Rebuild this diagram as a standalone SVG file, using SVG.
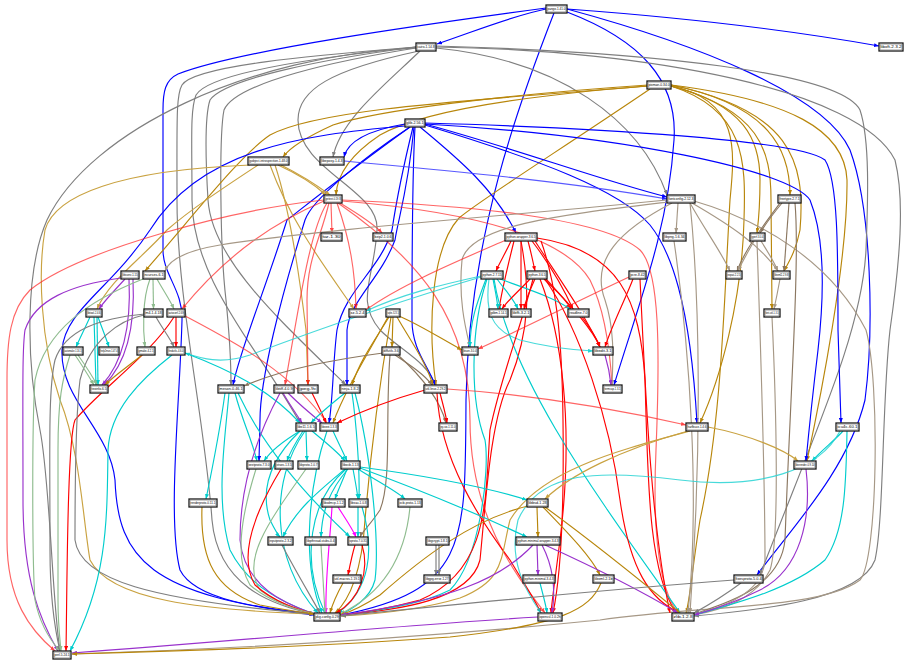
<svg xmlns="http://www.w3.org/2000/svg" width="909" height="663" viewBox="0 0 909 663">
<style>
.node rect{fill:#fff;stroke:#1a1a1a;stroke-width:1.3}
.node .in{fill:none;stroke:#9a9a9a;stroke-width:.6}
.node text{font-family:"Liberation Sans",Arial,sans-serif;font-size:3px;text-anchor:middle;fill:#000}
#edges path{fill:none;stroke-width:1.15}
.b{stroke:#0000ff;marker-end:url(#ab)}
.bl{stroke:#3c3cff;opacity:.85;marker-end:url(#ab)}
.g{stroke:#7f7f7f;marker-end:url(#ag)}
.o{stroke:#b8860b;marker-end:url(#ao)}
.ol{stroke:#c9a241;marker-end:url(#aol)}
.r{stroke:#ff0000;marker-end:url(#ar)}
.rl{stroke:#ff2a2a;opacity:.72;marker-end:url(#ar)}
.br{stroke:#a69886;marker-end:url(#abr)}
.bd{stroke:#8b7760;marker-end:url(#abd)}
.c{stroke:#00cdcd;marker-end:url(#ac)}
.cl{stroke:#28d4d4;opacity:.85;marker-end:url(#ac)}
.p{stroke:#9932cc;marker-end:url(#ap)}
.gn{stroke:#8fbc8f;marker-end:url(#agn)}
.m{stroke:#ff00ff;marker-end:url(#am)}
</style>
<defs>
<marker id="ab" viewBox="0 0 10 8" refX="10" refY="4" markerWidth="5" markerHeight="4" orient="auto" markerUnits="userSpaceOnUse"><path d="M0,0L10,4L0,8z" fill="#0000ff"/></marker>
<marker id="ag" viewBox="0 0 10 8" refX="10" refY="4" markerWidth="5" markerHeight="4" orient="auto" markerUnits="userSpaceOnUse"><path d="M0,0L10,4L0,8z" fill="#7f7f7f"/></marker>
<marker id="ao" viewBox="0 0 10 8" refX="10" refY="4" markerWidth="5" markerHeight="4" orient="auto" markerUnits="userSpaceOnUse"><path d="M0,0L10,4L0,8z" fill="#b8860b"/></marker>
<marker id="aol" viewBox="0 0 10 8" refX="10" refY="4" markerWidth="5" markerHeight="4" orient="auto" markerUnits="userSpaceOnUse"><path d="M0,0L10,4L0,8z" fill="#c9a241"/></marker>
<marker id="ar" viewBox="0 0 10 8" refX="10" refY="4" markerWidth="5" markerHeight="4" orient="auto" markerUnits="userSpaceOnUse"><path d="M0,0L10,4L0,8z" fill="#ff0000"/></marker>
<marker id="abr" viewBox="0 0 10 8" refX="10" refY="4" markerWidth="5" markerHeight="4" orient="auto" markerUnits="userSpaceOnUse"><path d="M0,0L10,4L0,8z" fill="#a69886"/></marker>
<marker id="abd" viewBox="0 0 10 8" refX="10" refY="4" markerWidth="5" markerHeight="4" orient="auto" markerUnits="userSpaceOnUse"><path d="M0,0L10,4L0,8z" fill="#8b7760"/></marker>
<marker id="ac" viewBox="0 0 10 8" refX="10" refY="4" markerWidth="5" markerHeight="4" orient="auto" markerUnits="userSpaceOnUse"><path d="M0,0L10,4L0,8z" fill="#00cdcd"/></marker>
<marker id="ap" viewBox="0 0 10 8" refX="10" refY="4" markerWidth="5" markerHeight="4" orient="auto" markerUnits="userSpaceOnUse"><path d="M0,0L10,4L0,8z" fill="#9932cc"/></marker>
<marker id="agn" viewBox="0 0 10 8" refX="10" refY="4" markerWidth="5" markerHeight="4" orient="auto" markerUnits="userSpaceOnUse"><path d="M0,0L10,4L0,8z" fill="#8fbc8f"/></marker>
<marker id="am" viewBox="0 0 10 8" refX="10" refY="4" markerWidth="5" markerHeight="4" orient="auto" markerUnits="userSpaceOnUse"><path d="M0,0L10,4L0,8z" fill="#ff00ff"/></marker>
</defs>
<rect width="909" height="663" fill="#fff"/>
<g id="edges">
<path class="b" d="M546,9 C515,15 478,30 437,44"/>
<path class="b" d="M567,9 C690,18 800,32 879,46"/>
<path class="b" d="M546,8 C420,25 240,50 178,74 C165,80 163,92 163,110 L163,250 C163,275 183,290 182,320 C180,400 167,520 180,570 C195,600 260,608 314,614"/>
<path class="b" d="M554,13 C520,100 468,240 466,400 C465,540 470,590 341,615"/>
<path class="b" d="M567,12 C640,40 678,80 674,140 C668,230 640,300 614,385"/>
<path class="b" d="M567,9 C700,45 825,95 850,150 C872,210 874,330 865,400 C848,470 790,530 757,575"/>
<path class="g" d="M416,48 C250,55 90,130 47,220 C25,270 26,360 40,430 C50,480 52,600 60,651"/>
<path class="g" d="M416,47 C320,55 195,65 182,85 C176,95 177,120 177,200 C177,300 205,420 212,520 C218,585 270,605 314,614"/>
<path class="g" d="M416,47 C320,57 210,72 196,95 C190,110 192,140 192,200 C192,280 260,350 300,423"/>
<path class="g" d="M416,47 C330,58 225,78 210,100 C205,115 205,150 208,200 C212,260 280,320 346,385"/>
<path class="g" d="M416,48 C340,60 236,82 224,110 C219,135 220,250 226,300 C230,340 231,360 231,385"/>
<path class="g" d="M420,51 C385,85 340,120 333,157"/>
<path class="g" d="M419,51 C330,70 298,90 298,120 C298,170 380,190 377,230 C374,280 355,300 380,330 C400,350 428,362 435,385"/>
<path class="g" d="M436,48 C560,60 640,120 667,195"/>
<path class="g" d="M436,46 C650,52 840,72 860,110 C870,140 868,200 866,250 C862,330 820,420 760,575"/>
<path class="g" d="M436,47 C650,50 860,90 895,160 C905,200 900,260 890,330 C882,400 884,520 875,560 C860,600 760,610 694,616"/>
<path class="o" d="M648,85 C500,95 380,110 333,125 C300,140 288,150 283,157"/>
<path class="o" d="M648,86 C520,96 420,112 380,135 C350,155 337,175 336,195"/>
<path class="o" d="M648,86 C480,100 320,108 270,135 C240,155 190,220 145,271"/>
<path class="o" d="M650,89 C560,150 480,200 459,218 C430,250 428,330 436,385"/>
<path class="o" d="M671,86 C740,100 735,150 730,200 C724,300 722,420 700,520 C692,570 690,600 686,613"/>
<path class="o" d="M671,86 C745,110 746,160 744,220 C742,300 720,380 700,423"/>
<path class="o" d="M671,86 C745,105 760,140 760,180 C760,210 758,225 757,233"/>
<path class="o" d="M671,86 C760,110 771,150 771,200 L772,309"/>
<path class="o" d="M671,85 C770,105 790,150 790,195"/>
<path class="o" d="M671,85 C790,110 806,160 800,230 C796,250 790,260 784,271"/>
<path class="o" d="M671,85 C790,100 845,130 847,180 C848,260 820,400 807,461"/>
<path class="b" d="M405,124 C370,130 348,140 344,157"/>
<path class="b" d="M405,126 C300,135 200,150 150,230 C110,290 65,310 62,350 C60,400 110,430 115,480 C118,560 150,595 314,615"/>
<path class="b" d="M410,127 C350,170 300,210 287,220 C265,290 240,350 233,385"/>
<path class="b" d="M410,127 C360,160 312,200 305,220 C280,300 260,380 260,420 L259,461"/>
<path class="b" d="M413,127 C400,180 395,210 392,230 C380,270 345,290 337,330 C333,360 333,400 329,423"/>
<path class="b" d="M414,127 C408,190 398,220 395,240 C380,280 350,300 347,330 L347,385"/>
<path class="b" d="M415,127 C412,180 412,260 412,320 C412,350 428,365 435,385"/>
<path class="b" d="M420,127 C460,160 495,190 516,233"/>
<path class="b" d="M425,124 C520,150 600,180 667,197"/>
<path class="b" d="M425,123 C600,128 800,140 825,160 C838,180 838,250 838,330 L841,423"/>
<path class="b" d="M425,124 C620,135 790,170 810,200 C822,230 826,280 818,350 C812,400 808,440 806,461"/>
<path class="b" d="M425,125 C540,160 620,190 650,225 C670,250 690,300 697,423"/>
<path class="ol" d="M278,165 C300,175 315,185 326,195"/>
<path class="ol" d="M281,165 C303,176 318,186 330,195"/>
<path class="ol" d="M250,165 C120,170 55,195 45,230 C38,270 40,340 60,400 C80,450 83,520 90,560 C110,600 200,610 314,614"/>
<path class="ol" d="M258,165 C220,190 190,210 167,230 C140,260 110,280 97,309"/>
<path class="ol" d="M270,165 C290,220 320,260 354,309"/>
<path class="ol" d="M275,165 C290,210 300,280 306,330 L308,385"/>
<path class="bl" d="M344,161 C420,168 560,180 667,199"/>
<path class="rl" d="M324,200 C230,210 80,250 30,290 C10,310 7,340 7,380 L7,540 C7,600 30,630 55,651"/>
<path class="rl" d="M331,203 L332,233"/>
<path class="rl" d="M327,203 C310,230 300,300 285,385"/>
<path class="rl" d="M329,203 C320,240 307,260 307,300 L308,385"/>
<path class="rl" d="M337,203 C350,240 355,270 356,309"/>
<path class="rl" d="M340,203 C360,215 375,225 382,233"/>
<path class="rl" d="M342,200 C450,205 600,215 640,250 C660,270 660,350 656,450 C652,540 660,590 678,613"/>
<path class="rl" d="M342,201 C450,210 560,230 590,280 C605,310 610,350 612,385"/>
<path class="rl" d="M338,203 C420,260 470,320 470,420 C470,520 520,580 545,613"/>
<path class="rl" d="M324,201 C280,220 230,250 182,309"/>
<path class="br" d="M667,200 C520,215 330,228 220,245 C190,250 170,258 165,271"/>
<path class="br" d="M668,202 C560,215 470,225 462,260 C458,300 466,330 470,347"/>
<path class="br" d="M672,203 C620,230 590,260 605,300 C615,330 613,360 612,385"/>
<path class="br" d="M690,203 C700,300 702,450 690,613"/>
<path class="br" d="M690,203 C705,230 720,250 730,271"/>
<path class="br" d="M692,203 C730,225 760,245 778,271"/>
<path class="br" d="M694,201 C760,220 830,260 866,330 C880,380 878,560 860,580 C820,610 700,605 600,620 C400,640 200,650 72,654"/>
<path class="br" d="M678,203 L676,233"/>
<path class="bd" d="M782,203 C772,215 765,225 760,233"/>
<path class="bd" d="M789,203 L784,271"/>
<path class="bd" d="M795,203 C800,260 790,400 785,540 C780,590 720,605 694,614"/>
<path class="bd" d="M780,203 C760,230 745,250 737,271"/>
<path class="br" d="M754,241 C748,252 742,262 738,271"/>
<path class="br" d="M761,241 C768,252 774,262 778,271"/>
<path class="br" d="M757,241 C760,330 765,470 765,560 C763,595 720,608 694,614"/>
<path class="br" d="M780,279 C778,290 776,300 774,309"/>
<path class="br" d="M772,317 C776,400 780,540 770,570 C755,600 720,610 694,615"/>
<path class="br" d="M674,241 C690,350 700,500 688,613"/>
<path class="r" d="M511,241 C506,252 500,262 496,271"/>
<path class="r" d="M514,241 C508,265 502,290 499,309"/>
<path class="r" d="M521,241 L521,309"/>
<path class="r" d="M528,241 C531,252 533,262 535,271"/>
<path class="r" d="M532,241 C548,262 562,285 573,309"/>
<path class="r" d="M535,241 C560,280 585,315 600,347"/>
<path class="rl" d="M506,240 C460,260 400,285 366,310"/>
<path class="r" d="M537,238 C620,250 640,300 645,380 C648,480 648,570 676,613"/>
<path class="r" d="M541,241 C555,280 562,330 563,420 C564,500 562,570 553,613"/>
<path class="r" d="M521,241 C530,290 530,330 510,380 C490,420 486,500 480,560 C470,600 400,610 341,615"/>
<path class="cl" d="M481,276 C440,285 400,295 366,311"/>
<path class="cl" d="M481,277 C420,295 330,325 250,355 C220,365 200,358 185,353"/>
<path class="c" d="M486,279 C478,300 470,320 470,347"/>
<path class="c" d="M493,279 C495,290 497,298 498,309"/>
<path class="c" d="M497,279 C505,290 513,298 518,309"/>
<path class="c" d="M500,279 C530,290 555,298 570,309"/>
<path class="cl" d="M489,279 C485,310 490,330 520,340 C550,348 575,350 593,351"/>
<path class="c" d="M487,279 C470,330 470,400 485,440 C490,470 480,560 450,590 C420,605 370,612 341,615"/>
<path class="c" d="M494,279 C510,380 600,500 680,613"/>
<path class="r" d="M530,279 C520,290 508,300 502,309"/>
<path class="r" d="M535,279 C530,290 526,298 524,309"/>
<path class="r" d="M544,279 C555,290 565,298 571,309"/>
<path class="r" d="M546,279 C565,300 590,325 600,347"/>
<path class="r" d="M540,279 C560,330 575,420 560,540 C555,580 552,600 551,613"/>
<path class="r" d="M533,279 C520,330 500,380 490,430 C485,500 490,570 420,600 C390,608 360,613 341,615"/>
<path class="r" d="M545,279 C580,330 610,420 620,500 C630,570 650,600 680,613"/>
<path class="r" d="M633,279 C625,300 612,325 605,347"/>
<path class="rl" d="M629,277 C580,300 520,330 478,349"/>
<path class="r" d="M640,279 C645,380 650,520 670,613"/>
<path class="r" d="M582,317 C590,328 597,338 600,347"/>
<path class="r" d="M176,317 L176,347"/>
<path class="rl" d="M185,316 C230,340 290,370 327,423"/>
<path class="r" d="M174,317 C150,355 100,390 75,420 C67,440 67,600 66,651"/>
<path class="p" d="M125,279 C115,290 105,300 99,309"/>
<path class="p" d="M129,279 C131,320 125,360 102,385"/>
<path class="p" d="M133,279 C135,320 130,360 104,385"/>
<path class="p" d="M121,278 C70,285 35,300 25,330 C22,350 23,400 23,500 C23,580 40,620 58,651"/>
<path class="gn" d="M153,279 L153.5,309"/>
<path class="gn" d="M157,279 C163,290 170,300 174,309"/>
<path class="gn" d="M150,279 C142,300 143,330 145,347"/>
<path class="gn" d="M143,279 C90,300 45,330 35,380 C32,420 32,560 35,600 C40,625 50,640 60,651"/>
<path class="c" d="M90,317 C85,328 80,338 76,347"/>
<path class="c" d="M98,317 C102,328 106,338 109,347"/>
<path class="c" d="M94,317 L96,385"/>
<path class="c" d="M97,317 L98,385"/>
<path class="g" d="M156,317 C162,328 170,338 174,347"/>
<path class="g" d="M145,314 C100,318 65,330 55,360 C48,390 50,450 50,550 C50,600 55,630 60,651"/>
<path class="g" d="M144,315 C120,320 90,340 80,380 C75,420 75,500 75,540 C80,580 150,600 314,614"/>
<path class="gn" d="M75,355 C82,365 88,375 94,385"/>
<path class="gn" d="M78,355 C85,365 92,375 97,385"/>
<path class="gn" d="M70,355 C62,380 58,400 58,450 L58,600 C58,625 60,640 61,651"/>
<path class="o" d="M142,355 C130,365 115,375 105,385"/>
<path class="c" d="M172,355 C140,380 110,410 108,450 C107,520 108,580 70,651"/>
<path class="c" d="M185,353 C230,370 270,390 300,423"/>
<path class="o" d="M393,317 L392,347"/>
<path class="o" d="M389,317 C375,340 360,360 352,385"/>
<path class="o" d="M397,317 C410,340 425,360 433,385"/>
<path class="o" d="M399,316 C420,325 440,338 462,350"/>
<path class="o" d="M388,317 C370,350 345,390 333,423"/>
<path class="o" d="M391,317 C380,380 370,460 365,520 C362,570 350,600 335,613"/>
<path class="bd" d="M383,353 C330,360 280,370 244,386"/>
<path class="bd" d="M390,355 C385,420 392,480 380,510 C370,525 362,532 360,537"/>
<path class="bd" d="M395,355 C410,365 425,375 432,385"/>
<path class="bd" d="M398,355 C420,375 440,400 446,423"/>
<path class="p" d="M605,355 C608,365 610,375 611,385"/>
<path class="c" d="M225,393 C220,430 212,470 206,499"/>
<path class="c" d="M235,393 C242,420 252,440 257,461"/>
<path class="c" d="M229,393 C225,440 215,500 230,550 C250,590 290,605 314,614"/>
<path class="c" d="M238,393 C260,440 300,490 350,537"/>
<path class="p" d="M283,393 C290,405 297,415 302,423"/>
<path class="p" d="M288,393 C300,405 312,415 322,423"/>
<path class="p" d="M280,393 C260,430 240,480 240,540 C245,590 290,605 314,614"/>
<path class="r" d="M312,393 C318,405 323,415 326,423"/>
<path class="c" d="M345,393 C330,405 318,415 311,423"/>
<path class="c" d="M352,393 C356,420 360,470 359,499"/>
<path class="c" d="M355,393 C370,450 380,540 375,580 C370,600 350,610 340,615"/>
<path class="r" d="M440,393 C443,405 446,415 447,423"/>
<path class="r" d="M437,393 C440,460 480,520 510,560 C525,585 535,600 541,613"/>
<path class="rl" d="M447,389 C540,395 620,410 686,425"/>
<path class="r" d="M425,390 C390,400 360,412 337,423"/>
<path class="c" d="M300,431 C285,440 270,452 264,461"/>
<path class="c" d="M303,431 C296,442 290,452 287,461"/>
<path class="c" d="M306,431 L307,461"/>
<path class="c" d="M312,431 C325,442 338,452 345,461"/>
<path class="c" d="M300,431 C270,460 260,490 270,520 C275,530 278,535 280,537"/>
<path class="c" d="M305,431 C270,480 270,560 318,613"/>
<path class="c" d="M333,431 C338,442 343,452 347,461"/>
<path class="c" d="M327,431 C310,480 300,560 322,613"/>
<path class="ol" d="M708,427 C750,435 785,450 798,461"/>
<path class="ol" d="M690,431 C620,450 540,470 510,520 C500,560 505,580 460,598 C420,610 380,614 341,616"/>
<path class="ol" d="M688,431 C620,450 570,475 545,499"/>
<path class="c" d="M843,431 C835,440 822,450 812,461"/>
<path class="c" d="M847,431 C846,480 846,530 825,560 C790,590 730,605 694,615"/>
<path class="cl" d="M840,431 C820,470 760,490 680,480 C600,470 540,470 518,520 C508,560 525,590 541,613"/>
<path class="c" d="M347,469 C343,480 338,490 335,499"/>
<path class="c" d="M353,469 C355,480 357,490 358,499"/>
<path class="c" d="M358,469 C375,480 395,490 405,499"/>
<path class="c" d="M360,467 C420,475 480,485 527,500"/>
<path class="c" d="M360,468 C420,490 480,515 527,537"/>
<path class="c" d="M345,469 C320,490 295,510 283,537"/>
<path class="c" d="M348,469 C330,490 322,510 321,537"/>
<path class="c" d="M346,469 C310,500 300,560 325,613"/>
<path class="m" d="M338,507 C345,518 352,528 356,537"/>
<path class="m" d="M332,507 C330,540 325,580 326,613"/>
<path class="c" d="M358,507 L358,537"/>
<path class="c" d="M362,507 C375,550 370,590 338,613"/>
<path class="gn" d="M410,507 C405,560 380,595 340,614"/>
<path class="o" d="M537,507 L538,537"/>
<path class="o" d="M543,507 C565,530 590,555 600,575"/>
<path class="o" d="M545,507 C590,540 640,580 680,613"/>
<path class="o" d="M528,506 C470,520 420,560 380,595 C365,605 350,612 340,615"/>
<path class="g" d="M282,545 C295,570 310,595 320,613"/>
<path class="gn" d="M321,545 L325,613"/>
<path class="r" d="M355,545 C352,555 350,565 348,575"/>
<path class="r" d="M362,545 C370,570 360,600 336,613"/>
<path class="o" d="M343,583 C338,592 333,602 330,613"/>
<path class="g" d="M436,545 L436,575"/>
<path class="g" d="M439,545 L439,575"/>
<path class="p" d="M537,545 L538,575"/>
<path class="p" d="M542,545 C555,570 555,595 552,613"/>
<path class="p" d="M545,545 C600,570 640,590 678,613"/>
<path class="p" d="M533,545 C500,580 450,600 341,615"/>
<path class="p" d="M538,617 C400,625 250,640 72,653"/>
<path class="c" d="M540,583 C543,595 546,605 547,613"/>
<path class="o" d="M601,583 C590,610 560,625 450,637 C300,648 150,652 72,654"/>
<path class="g" d="M734,580 C600,590 450,605 341,616"/>
<path class="g" d="M741,583 C725,595 705,607 694,613"/>
<path class="p" d="M806,469 C812,520 800,570 760,590 C730,605 705,612 694,615"/>
<path class="gn" d="M306,469 C270,520 240,560 260,590 C280,605 300,610 314,614"/>
<path class="r" d="M281,469 C250,520 240,560 255,585 C275,603 300,610 314,614"/>
<path class="gn" d="M256,469 C240,520 235,560 250,585 C270,603 300,610 314,614"/>
<path class="o" d="M202,507 C200,560 215,590 260,605 C285,610 300,612 314,614"/>
</g>
<g id="n1" class="node"><rect x="546" y="5" width="21" height="8"/><rect class="in" x="547.2" y="6.2" width="18.6" height="5.6"/><text x="556.5" y="10.2" textLength="18" lengthAdjust="spacingAndGlyphs">pango-1.41.0</text></g>
<g id="n2" class="node"><rect x="416" y="43" width="20" height="8"/><rect class="in" x="417.2" y="44.2" width="17.6" height="5.6"/><text x="426" y="48.2" textLength="17" lengthAdjust="spacingAndGlyphs">cairo-1.14.8</text></g>
<g id="n3" class="node"><rect x="879" y="43" width="24" height="8"/><rect class="in" x="880.2" y="44.2" width="21.6" height="5.6"/><text x="891" y="48.2" textLength="21" lengthAdjust="spacingAndGlyphs">libxft-2.3.2</text></g>
<g id="n4" class="node"><rect x="647" y="81" width="24" height="8"/><rect class="in" x="648.2" y="82.2" width="21.6" height="5.6"/><text x="659" y="86.2" textLength="21" lengthAdjust="spacingAndGlyphs">pixman-0.34.0</text></g>
<g id="n5" class="node"><rect x="405" y="119" width="20" height="8"/><rect class="in" x="406.2" y="120.2" width="17.6" height="5.6"/><text x="415" y="124.2" textLength="17" lengthAdjust="spacingAndGlyphs">glib-2.56.1</text></g>
<g id="n6" class="node"><rect x="248" y="157" width="41" height="8"/><rect class="in" x="249.2" y="158.2" width="38.6" height="5.6"/><text x="268.5" y="162.2" textLength="38" lengthAdjust="spacingAndGlyphs">gobject-introspection-1.48.0</text></g>
<g id="n7" class="node"><rect x="320" y="157" width="24" height="8"/><rect class="in" x="321.2" y="158.2" width="21.6" height="5.6"/><text x="332" y="162.2" textLength="21" lengthAdjust="spacingAndGlyphs">libepoxy-1.4.3</text></g>
<g id="n8" class="node"><rect x="324" y="195" width="18" height="8"/><rect class="in" x="325.2" y="196.2" width="15.6" height="5.6"/><text x="333" y="200.2" textLength="15" lengthAdjust="spacingAndGlyphs">gettext-0.19.8</text></g>
<g id="n9" class="node"><rect x="667" y="195" width="28" height="8"/><rect class="in" x="668.2" y="196.2" width="25.6" height="5.6"/><text x="681" y="200.2" textLength="25" lengthAdjust="spacingAndGlyphs">fontconfig-2.12.3</text></g>
<g id="n10" class="node"><rect x="778" y="195" width="23" height="8"/><rect class="in" x="779.2" y="196.2" width="20.6" height="5.6"/><text x="789.5" y="200.2" textLength="20" lengthAdjust="spacingAndGlyphs">freetype-2.7.1</text></g>
<g id="n11" class="node"><rect x="321" y="233" width="21" height="8"/><rect class="in" x="322.2" y="234.2" width="18.6" height="5.6"/><text x="331.5" y="238.2" textLength="18" lengthAdjust="spacingAndGlyphs">tar-1.30</text></g>
<g id="n12" class="node"><rect x="373" y="233" width="20" height="8"/><rect class="in" x="374.2" y="234.2" width="17.6" height="5.6"/><text x="383" y="238.2" textLength="17" lengthAdjust="spacingAndGlyphs">bzip2-1.0.6</text></g>
<g id="n13" class="node"><rect x="505" y="233" width="32" height="8"/><rect class="in" x="506.2" y="234.2" width="29.6" height="5.6"/><text x="521" y="238.2" textLength="29" lengthAdjust="spacingAndGlyphs">python-wrapper-3.6.5</text></g>
<g id="n14" class="node"><rect x="663" y="233" width="23" height="8"/><rect class="in" x="664.2" y="234.2" width="20.6" height="5.6"/><text x="674.5" y="238.2" textLength="20" lengthAdjust="spacingAndGlyphs">libpng-1.6.34</text></g>
<g id="n15" class="node"><rect x="750" y="233" width="15" height="8"/><rect class="in" x="751.2" y="234.2" width="12.6" height="5.6"/><text x="757.5" y="238.2" textLength="12" lengthAdjust="spacingAndGlyphs">gperf-3.0.4</text></g>
<g id="n16" class="node"><rect x="121" y="271" width="18" height="8"/><rect class="in" x="122.2" y="272.2" width="15.6" height="5.6"/><text x="130" y="276.2" textLength="15" lengthAdjust="spacingAndGlyphs">libiconv-1.15</text></g>
<g id="n17" class="node"><rect x="143" y="271" width="22" height="8"/><rect class="in" x="144.2" y="272.2" width="19.6" height="5.6"/><text x="154" y="276.2" textLength="19" lengthAdjust="spacingAndGlyphs">ncurses-6.1</text></g>
<g id="n18" class="node"><rect x="481" y="271" width="22" height="8"/><rect class="in" x="482.2" y="272.2" width="19.6" height="5.6"/><text x="492" y="276.2" textLength="19" lengthAdjust="spacingAndGlyphs">python-2.7.15</text></g>
<g id="n19" class="node"><rect x="527" y="271" width="20" height="8"/><rect class="in" x="528.2" y="272.2" width="17.6" height="5.6"/><text x="537" y="276.2" textLength="17" lengthAdjust="spacingAndGlyphs">python-3.6.5</text></g>
<g id="n20" class="node"><rect x="629" y="271" width="17" height="8"/><rect class="in" x="630.2" y="272.2" width="14.6" height="5.6"/><text x="637.5" y="276.2" textLength="14" lengthAdjust="spacingAndGlyphs">pcre-8.42</text></g>
<g id="n21" class="node"><rect x="726" y="271" width="16" height="8"/><rect class="in" x="727.2" y="272.2" width="13.6" height="5.6"/><text x="734" y="276.2" textLength="13" lengthAdjust="spacingAndGlyphs">expat-2.2.5</text></g>
<g id="n22" class="node"><rect x="773" y="271" width="17" height="8"/><rect class="in" x="774.2" y="272.2" width="14.6" height="5.6"/><text x="781.5" y="276.2" textLength="14" lengthAdjust="spacingAndGlyphs">libxml2-2.9.8</text></g>
<g id="n23" class="node"><rect x="86" y="309" width="16" height="8"/><rect class="in" x="87.2" y="310.2" width="13.6" height="5.6"/><text x="94" y="314.2" textLength="13" lengthAdjust="spacingAndGlyphs">libtool-2.4.6</text></g>
<g id="n24" class="node"><rect x="144" y="309" width="19" height="8"/><rect class="in" x="145.2" y="310.2" width="16.6" height="5.6"/><text x="153.5" y="314.2" textLength="16" lengthAdjust="spacingAndGlyphs">m4-1.4.18</text></g>
<g id="n25" class="node"><rect x="167" y="309" width="18" height="8"/><rect class="in" x="168.2" y="310.2" width="15.6" height="5.6"/><text x="176" y="314.2" textLength="15" lengthAdjust="spacingAndGlyphs">autoconf-2.69</text></g>
<g id="n26" class="node"><rect x="349" y="309" width="17" height="8"/><rect class="in" x="350.2" y="310.2" width="14.6" height="5.6"/><text x="357.5" y="314.2" textLength="14" lengthAdjust="spacingAndGlyphs">xz-5.2.4</text></g>
<g id="n27" class="node"><rect x="386" y="309" width="14" height="8"/><rect class="in" x="387.2" y="310.2" width="11.6" height="5.6"/><text x="393" y="314.2" textLength="11" lengthAdjust="spacingAndGlyphs">sqlite-3.23.1</text></g>
<g id="n28" class="node"><rect x="489" y="309" width="19" height="8"/><rect class="in" x="490.2" y="310.2" width="16.6" height="5.6"/><text x="498.5" y="314.2" textLength="16" lengthAdjust="spacingAndGlyphs">gdbm-1.14.1</text></g>
<g id="n29" class="node"><rect x="511" y="309" width="20" height="8"/><rect class="in" x="512.2" y="310.2" width="17.6" height="5.6"/><text x="521" y="314.2" textLength="17" lengthAdjust="spacingAndGlyphs">libffi-3.2.1</text></g>
<g id="n30" class="node"><rect x="568" y="309" width="21" height="8"/><rect class="in" x="569.2" y="310.2" width="18.6" height="5.6"/><text x="578.5" y="314.2" textLength="18" lengthAdjust="spacingAndGlyphs">readline-7.0</text></g>
<g id="n31" class="node"><rect x="764" y="309" width="16" height="8"/><rect class="in" x="765.2" y="310.2" width="13.6" height="5.6"/><text x="772" y="314.2" textLength="13" lengthAdjust="spacingAndGlyphs">font-util-1.3.1</text></g>
<g id="n32" class="node"><rect x="63" y="347" width="20" height="8"/><rect class="in" x="64.2" y="348.2" width="17.6" height="5.6"/><text x="73" y="352.2" textLength="17" lengthAdjust="spacingAndGlyphs">automake-1.16.1</text></g>
<g id="n33" class="node"><rect x="99" y="347" width="20" height="8"/><rect class="in" x="100.2" y="348.2" width="17.6" height="5.6"/><text x="109" y="352.2" textLength="17" lengthAdjust="spacingAndGlyphs">help2man-1.47.4</text></g>
<g id="n34" class="node"><rect x="137" y="347" width="18" height="8"/><rect class="in" x="138.2" y="348.2" width="15.6" height="5.6"/><text x="146" y="352.2" textLength="15" lengthAdjust="spacingAndGlyphs">gmake-4.2.1</text></g>
<g id="n35" class="node"><rect x="167" y="347" width="18" height="8"/><rect class="in" x="168.2" y="348.2" width="15.6" height="5.6"/><text x="176" y="352.2" textLength="15" lengthAdjust="spacingAndGlyphs">findutils-4.6.0</text></g>
<g id="n36" class="node"><rect x="382" y="347" width="18" height="8"/><rect class="in" x="383.2" y="348.2" width="15.6" height="5.6"/><text x="391" y="352.2" textLength="15" lengthAdjust="spacingAndGlyphs">diffutils-3.6</text></g>
<g id="n37" class="node"><rect x="462" y="347" width="16" height="8"/><rect class="in" x="463.2" y="348.2" width="13.6" height="5.6"/><text x="470" y="352.2" textLength="13" lengthAdjust="spacingAndGlyphs">bison-3.0.4</text></g>
<g id="n38" class="node"><rect x="593" y="347" width="20" height="8"/><rect class="in" x="594.2" y="348.2" width="17.6" height="5.6"/><text x="603" y="352.2" textLength="17" lengthAdjust="spacingAndGlyphs">libedit-3.1</text></g>
<g id="n39" class="node"><rect x="90" y="385" width="18" height="8"/><rect class="in" x="91.2" y="386.2" width="15.6" height="5.6"/><text x="99" y="390.2" textLength="15" lengthAdjust="spacingAndGlyphs">texinfo-6.5</text></g>
<g id="n40" class="node"><rect x="218" y="385" width="26" height="8"/><rect class="in" x="219.2" y="386.2" width="23.6" height="5.6"/><text x="231" y="390.2" textLength="23" lengthAdjust="spacingAndGlyphs">meson-0.46.1</text></g>
<g id="n41" class="node"><rect x="274" y="385" width="20" height="8"/><rect class="in" x="275.2" y="386.2" width="17.6" height="5.6"/><text x="284" y="390.2" textLength="17" lengthAdjust="spacingAndGlyphs">libtiff-4.0.9</text></g>
<g id="n42" class="node"><rect x="298" y="385" width="20" height="8"/><rect class="in" x="299.2" y="386.2" width="17.6" height="5.6"/><text x="308" y="390.2" textLength="17" lengthAdjust="spacingAndGlyphs">jpeg-9c</text></g>
<g id="n43" class="node"><rect x="340" y="385" width="20" height="8"/><rect class="in" x="341.2" y="386.2" width="17.6" height="5.6"/><text x="350" y="390.2" textLength="17" lengthAdjust="spacingAndGlyphs">ninja-1.8.2</text></g>
<g id="n44" class="node"><rect x="424" y="385" width="23" height="8"/><rect class="in" x="425.2" y="386.2" width="20.6" height="5.6"/><text x="435.5" y="390.2" textLength="20" lengthAdjust="spacingAndGlyphs">util-linux-2.29.2</text></g>
<g id="n45" class="node"><rect x="603" y="385" width="19" height="8"/><rect class="in" x="604.2" y="386.2" width="16.6" height="5.6"/><text x="612.5" y="390.2" textLength="16" lengthAdjust="spacingAndGlyphs">termcap-1.3.1</text></g>
<g id="n46" class="node"><rect x="296" y="423" width="20" height="8"/><rect class="in" x="297.2" y="424.2" width="17.6" height="5.6"/><text x="306" y="428.2" textLength="17" lengthAdjust="spacingAndGlyphs">libx11-1.6.5</text></g>
<g id="n47" class="node"><rect x="320" y="423" width="18" height="8"/><rect class="in" x="321.2" y="424.2" width="15.6" height="5.6"/><text x="329" y="428.2" textLength="15" lengthAdjust="spacingAndGlyphs">libxext-1.3.3</text></g>
<g id="n48" class="node"><rect x="439" y="423" width="18" height="8"/><rect class="in" x="440.2" y="424.2" width="15.6" height="5.6"/><text x="448" y="428.2" textLength="15" lengthAdjust="spacingAndGlyphs">py-six-1.11.0</text></g>
<g id="n49" class="node"><rect x="686" y="423" width="22" height="8"/><rect class="in" x="687.2" y="424.2" width="19.6" height="5.6"/><text x="697" y="428.2" textLength="19" lengthAdjust="spacingAndGlyphs">harfbuzz-1.4.6</text></g>
<g id="n50" class="node"><rect x="836" y="423" width="23" height="8"/><rect class="in" x="837.2" y="424.2" width="20.6" height="5.6"/><text x="847.5" y="428.2" textLength="20" lengthAdjust="spacingAndGlyphs">icu4c-60.1</text></g>
<g id="n51" class="node"><rect x="247" y="461" width="24" height="8"/><rect class="in" x="248.2" y="462.2" width="21.6" height="5.6"/><text x="259" y="466.2" textLength="21" lengthAdjust="spacingAndGlyphs">xextproto-7.3.0</text></g>
<g id="n52" class="node"><rect x="275" y="461" width="18" height="8"/><rect class="in" x="276.2" y="462.2" width="15.6" height="5.6"/><text x="284" y="466.2" textLength="15" lengthAdjust="spacingAndGlyphs">xtrans-1.3.5</text></g>
<g id="n53" class="node"><rect x="298" y="461" width="21" height="8"/><rect class="in" x="299.2" y="462.2" width="18.6" height="5.6"/><text x="308.5" y="466.2" textLength="18" lengthAdjust="spacingAndGlyphs">kbproto-1.0.7</text></g>
<g id="n54" class="node"><rect x="341" y="461" width="19" height="8"/><rect class="in" x="342.2" y="462.2" width="16.6" height="5.6"/><text x="350.5" y="466.2" textLength="16" lengthAdjust="spacingAndGlyphs">libxcb-1.13</text></g>
<g id="n55" class="node"><rect x="794" y="461" width="22" height="8"/><rect class="in" x="795.2" y="462.2" width="19.6" height="5.6"/><text x="805" y="466.2" textLength="19" lengthAdjust="spacingAndGlyphs">libxrender-0.9.10</text></g>
<g id="n56" class="node"><rect x="189" y="499" width="28" height="8"/><rect class="in" x="190.2" y="500.2" width="25.6" height="5.6"/><text x="203" y="504.2" textLength="25" lengthAdjust="spacingAndGlyphs">renderproto-0.11.1</text></g>
<g id="n57" class="node"><rect x="322" y="499" width="23" height="8"/><rect class="in" x="323.2" y="500.2" width="20.6" height="5.6"/><text x="333.5" y="504.2" textLength="20" lengthAdjust="spacingAndGlyphs">libxdmcp-1.1.2</text></g>
<g id="n58" class="node"><rect x="349" y="499" width="19" height="8"/><rect class="in" x="350.2" y="500.2" width="16.6" height="5.6"/><text x="358.5" y="504.2" textLength="16" lengthAdjust="spacingAndGlyphs">libxau-1.0.8</text></g>
<g id="n59" class="node"><rect x="398" y="499" width="24" height="8"/><rect class="in" x="399.2" y="500.2" width="21.6" height="5.6"/><text x="410" y="504.2" textLength="21" lengthAdjust="spacingAndGlyphs">xcb-proto-1.13</text></g>
<g id="n60" class="node"><rect x="527" y="499" width="21" height="8"/><rect class="in" x="528.2" y="500.2" width="18.6" height="5.6"/><text x="537.5" y="504.2" textLength="18" lengthAdjust="spacingAndGlyphs">libbsd-1.28</text></g>
<g id="n61" class="node"><rect x="268" y="537" width="25" height="8"/><rect class="in" x="269.2" y="538.2" width="22.6" height="5.6"/><text x="280.5" y="542.2" textLength="22" lengthAdjust="spacingAndGlyphs">inputproto-2.3.2</text></g>
<g id="n62" class="node"><rect x="305" y="537" width="31" height="8"/><rect class="in" x="306.2" y="538.2" width="28.6" height="5.6"/><text x="320.5" y="542.2" textLength="28" lengthAdjust="spacingAndGlyphs">libpthread-stubs-0.4</text></g>
<g id="n63" class="node"><rect x="348" y="537" width="20" height="8"/><rect class="in" x="349.2" y="538.2" width="17.6" height="5.6"/><text x="358" y="542.2" textLength="17" lengthAdjust="spacingAndGlyphs">xproto-7.0.31</text></g>
<g id="n64" class="node"><rect x="426" y="537" width="23" height="8"/><rect class="in" x="427.2" y="538.2" width="20.6" height="5.6"/><text x="437.5" y="542.2" textLength="20" lengthAdjust="spacingAndGlyphs">libgcrypt-1.8.1</text></g>
<g id="n65" class="node"><rect x="516" y="537" width="44" height="8"/><rect class="in" x="517.2" y="538.2" width="41.6" height="5.6"/><text x="538" y="542.2" textLength="41" lengthAdjust="spacingAndGlyphs">python-minimal-wrapper-3.4.3</text></g>
<g id="n66" class="node"><rect x="333" y="575" width="28" height="8"/><rect class="in" x="334.2" y="576.2" width="25.6" height="5.6"/><text x="347" y="580.2" textLength="25" lengthAdjust="spacingAndGlyphs">util-macros-1.19.1</text></g>
<g id="n67" class="node"><rect x="424" y="575" width="26" height="8"/><rect class="in" x="425.2" y="576.2" width="23.6" height="5.6"/><text x="437" y="580.2" textLength="23" lengthAdjust="spacingAndGlyphs">libgpg-error-1.27</text></g>
<g id="n68" class="node"><rect x="523" y="575" width="32" height="8"/><rect class="in" x="524.2" y="576.2" width="29.6" height="5.6"/><text x="539" y="580.2" textLength="29" lengthAdjust="spacingAndGlyphs">python-minimal-3.4.3</text></g>
<g id="n69" class="node"><rect x="593" y="575" width="21" height="8"/><rect class="in" x="594.2" y="576.2" width="18.6" height="5.6"/><text x="603.5" y="580.2" textLength="18" lengthAdjust="spacingAndGlyphs">libxml-2.1b</text></g>
<g id="n70" class="node"><rect x="734" y="575" width="29" height="8"/><rect class="in" x="735.2" y="576.2" width="26.6" height="5.6"/><text x="748.5" y="580.2" textLength="26" lengthAdjust="spacingAndGlyphs">fixesproto-5.0.4</text></g>
<g id="n71" class="node"><rect x="314" y="613" width="26" height="8"/><rect class="in" x="315.2" y="614.2" width="23.6" height="5.6"/><text x="327" y="618.2" textLength="23" lengthAdjust="spacingAndGlyphs">pkg-config-0.29</text></g>
<g id="n72" class="node"><rect x="538" y="613" width="24" height="8"/><rect class="in" x="539.2" y="614.2" width="21.6" height="5.6"/><text x="550" y="618.2" textLength="21" lengthAdjust="spacingAndGlyphs">openssl-1.0.2h</text></g>
<g id="n73" class="node"><rect x="672" y="613" width="22" height="8"/><rect class="in" x="673.2" y="614.2" width="19.6" height="5.6"/><text x="683" y="618.2" textLength="19" lengthAdjust="spacingAndGlyphs">zlib-1.2.8</text></g>
<g id="n74" class="node"><rect x="53" y="651" width="18" height="8"/><rect class="in" x="54.2" y="652.2" width="15.6" height="5.6"/><text x="62" y="656.2" textLength="15" lengthAdjust="spacingAndGlyphs">perl-5.24.1</text></g>
</svg>
